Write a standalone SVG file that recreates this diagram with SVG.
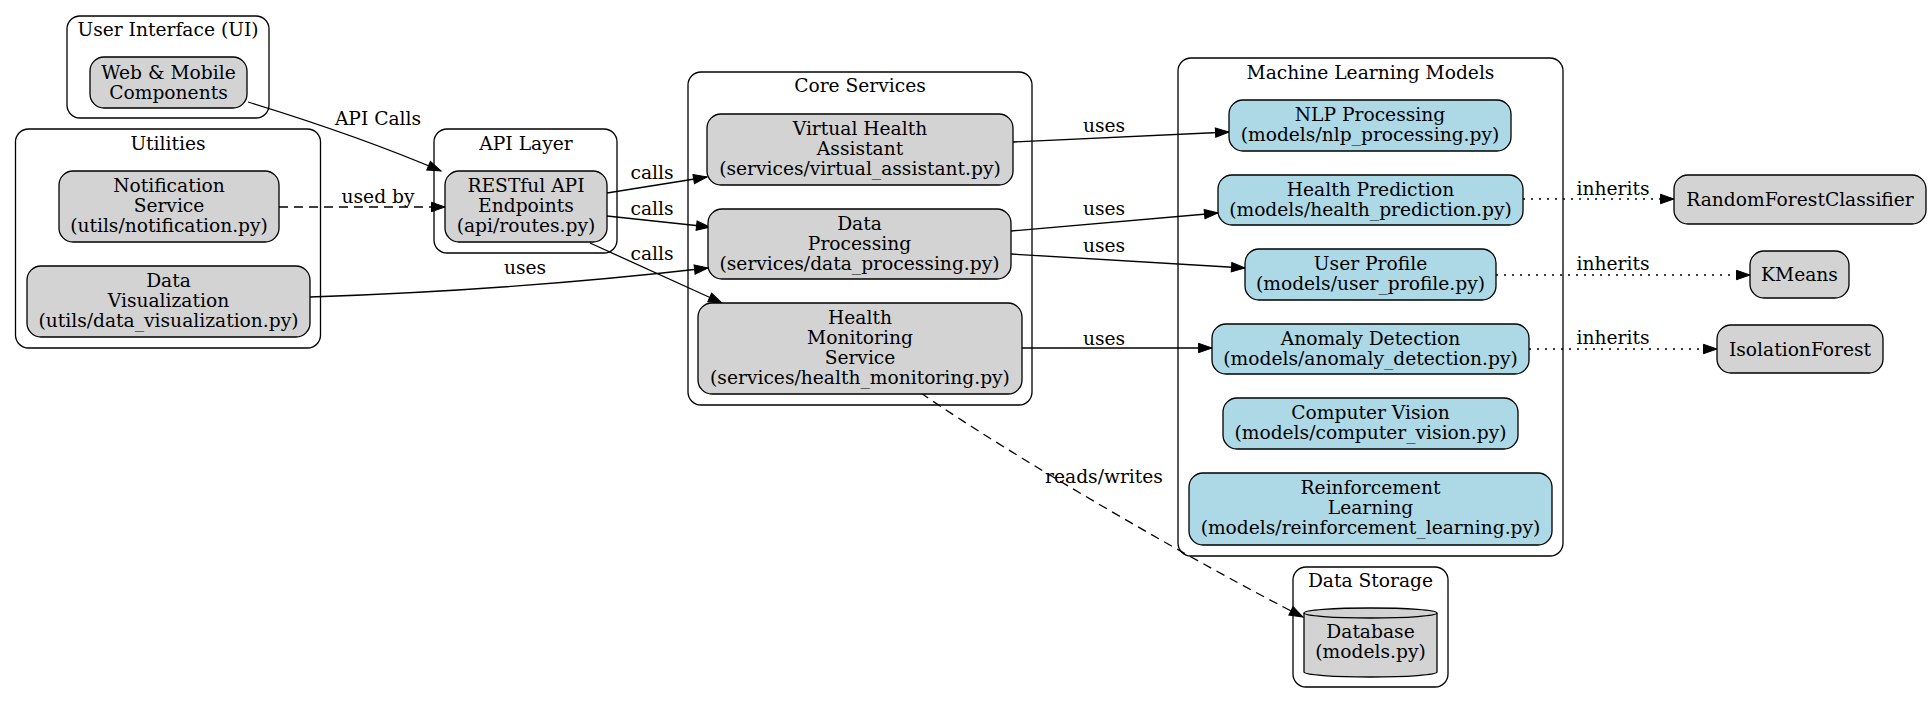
<svg xmlns="http://www.w3.org/2000/svg" width="1931" height="704" viewBox="0 0 1931 704">
<defs>
<style>
text{font-family:"DejaVu Serif","Liberation Serif",serif;font-size:18.67px;fill:#000;text-anchor:middle}
.cl{fill:#fff;stroke:#000;stroke-width:1.3}
.g{fill:#d3d3d3;stroke:#000;stroke-width:1.3}
.b{fill:#add8e6;stroke:#000;stroke-width:1.3}
.e{fill:none;stroke:#000;stroke-width:1.3}
.d{stroke-dasharray:9,6}
.o{stroke-dasharray:2,6}
</style>
<marker id="ah" markerUnits="userSpaceOnUse" markerWidth="14" markerHeight="10" refX="13.5" refY="5" orient="auto" overflow="visible">
<path d="M0,0.3 L13.5,5 L0,9.7 Z" fill="#000" stroke="#000" stroke-width="1"/>
</marker>
</defs>
<rect width="1931" height="704" fill="#fff"/>
<g id="clusters">
<g id="cluster_ui"><rect class="cl" x="67" y="16" width="202" height="102" rx="13"/><text x="168" y="36">User Interface (UI)</text></g>
<g id="cluster_utils"><rect class="cl" x="15.5" y="129" width="305" height="219" rx="13"/><text x="168" y="150">Utilities</text></g>
<g id="cluster_api"><rect class="cl" x="434" y="129" width="183" height="124" rx="13"/><text x="526" y="150">API Layer</text></g>
<g id="cluster_core"><rect class="cl" x="688" y="72" width="344" height="333" rx="13"/><text x="860" y="92">Core Services</text></g>
<g id="cluster_ml"><rect class="cl" x="1178" y="58" width="385" height="498" rx="13"/><text x="1370.5" y="79">Machine Learning Models</text></g>
<g id="cluster_ds"><rect class="cl" x="1293" y="567" width="155" height="120" rx="13"/><text x="1370.5" y="587">Data Storage</text></g>
</g>
<g id="connectors">
<path class="e" d="M248,102 C310,121 380,145 441,171" marker-end="url(#ah)"/>
<text x="378" y="125">API Calls</text>
<path class="e d" d="M279,207 L445,207" marker-end="url(#ah)"/>
<text x="378" y="203">used by</text>
<path class="e" d="M310,297 C430,293 560,285 708,268" marker-end="url(#ah)"/>
<text x="525" y="274">uses</text>
<path class="e" d="M607,193 L707,177" marker-end="url(#ah)"/>
<text x="652" y="179">calls</text>
<path class="e" d="M607,216 L710,227" marker-end="url(#ah)"/>
<text x="652" y="215">calls</text>
<path class="e" d="M590,243 L722,303" marker-end="url(#ah)"/>
<text x="652" y="260">calls</text>
<path class="e" d="M1013,142 L1229,132" marker-end="url(#ah)"/>
<text x="1104" y="132">uses</text>
<path class="e" d="M1011,231 L1218,213" marker-end="url(#ah)"/>
<text x="1104" y="215">uses</text>
<path class="e" d="M1011,254 L1245,268" marker-end="url(#ah)"/>
<text x="1104" y="252">uses</text>
<path class="e" d="M1022,348 L1212,348" marker-end="url(#ah)"/>
<text x="1104" y="345">uses</text>
<path class="e o" d="M1523,199 L1674,199" marker-end="url(#ah)"/>
<text x="1613" y="195">inherits</text>
<path class="e o" d="M1496,275 L1750,275" marker-end="url(#ah)"/>
<text x="1613" y="270">inherits</text>
<path class="e o" d="M1529,349 L1717,349" marker-end="url(#ah)"/>
<text x="1613" y="344">inherits</text>
<path class="e d" d="M921,393 C1010,455 1200,565 1303,617" marker-end="url(#ah)"/>
<text x="1104" y="483">reads/writes</text>
</g>
<g id="node_web"><rect class="g" x="90" y="57" width="157" height="51" rx="14"/><text x="168.5" y="78.5">Web &amp; Mobile</text><text x="168.5" y="98.5">Components</text></g>
<g id="node_notification"><rect class="g" x="59" y="171" width="220" height="71" rx="14"/><text x="169" y="192">Notification</text><text x="169" y="212">Service</text><text x="169" y="232">(utils/notification.py)</text></g>
<g id="node_dataviz"><rect class="g" x="27" y="266" width="283" height="71" rx="14"/><text x="168.5" y="287">Data</text><text x="168.5" y="307">Visualization</text><text x="168.5" y="327">(utils/data_visualization.py)</text></g>
<g id="node_api"><rect class="g" x="445" y="171" width="162" height="71" rx="14"/><text x="526" y="192">RESTful API</text><text x="526" y="212">Endpoints</text><text x="526" y="232">(api/routes.py)</text></g>
<g id="node_vha"><rect class="g" x="707" y="114" width="306" height="71" rx="14"/><text x="860" y="135">Virtual Health</text><text x="860" y="155">Assistant</text><text x="860" y="175">(services/virtual_assistant.py)</text></g>
<g id="node_dp"><rect class="g" x="708" y="209" width="303" height="70" rx="14"/><text x="859.5" y="229.5">Data</text><text x="859.5" y="249.5">Processing</text><text x="859.5" y="269.5">(services/data_processing.py)</text></g>
<g id="node_hm"><rect class="g" x="698" y="303" width="324" height="91" rx="14"/><text x="860" y="324">Health</text><text x="860" y="344">Monitoring</text><text x="860" y="364">Service</text><text x="860" y="384">(services/health_monitoring.py)</text></g>
<g id="node_nlp"><rect class="b" x="1229" y="100" width="282" height="51" rx="14"/><text x="1370" y="121">NLP Processing</text><text x="1370" y="141">(models/nlp_processing.py)</text></g>
<g id="node_hp"><rect class="b" x="1218" y="175" width="305" height="50" rx="14"/><text x="1370.5" y="196">Health Prediction</text><text x="1370.5" y="216">(models/health_prediction.py)</text></g>
<g id="node_up"><rect class="b" x="1245" y="249" width="251" height="51" rx="14"/><text x="1370.5" y="270">User Profile</text><text x="1370.5" y="290">(models/user_profile.py)</text></g>
<g id="node_ad"><rect class="b" x="1212" y="324" width="317" height="50" rx="14"/><text x="1370.5" y="345">Anomaly Detection</text><text x="1370.5" y="365">(models/anomaly_detection.py)</text></g>
<g id="node_cv"><rect class="b" x="1223" y="398" width="295" height="51" rx="14"/><text x="1370.5" y="419">Computer Vision</text><text x="1370.5" y="439">(models/computer_vision.py)</text></g>
<g id="node_rl"><rect class="b" x="1189" y="473" width="363" height="72" rx="14"/><text x="1370.5" y="494">Reinforcement</text><text x="1370.5" y="514">Learning</text><text x="1370.5" y="534">(models/reinforcement_learning.py)</text></g>
<g id="node_rfc"><rect class="g" x="1674" y="175" width="252" height="49" rx="14"/><text x="1800" y="206">RandomForestClassifier</text></g>
<g id="node_kmeans"><rect class="g" x="1750" y="251" width="99" height="47" rx="14"/><text x="1799.5" y="281">KMeans</text></g>
<g id="node_if"><rect class="g" x="1717" y="325" width="166" height="48" rx="14"/><text x="1800" y="355.5">IsolationForest</text></g>
<g id="node_db"><path class="g" d="M1304,613 A66.5,5 0 0 1 1437,613 L1437,672 A66.5,5 0 0 1 1304,672 Z"/><path class="e" d="M1304,613 A66.5,5 0 0 0 1437,613"/><text x="1370.5" y="638">Database</text><text x="1370.5" y="658">(models.py)</text></g>
</svg>
